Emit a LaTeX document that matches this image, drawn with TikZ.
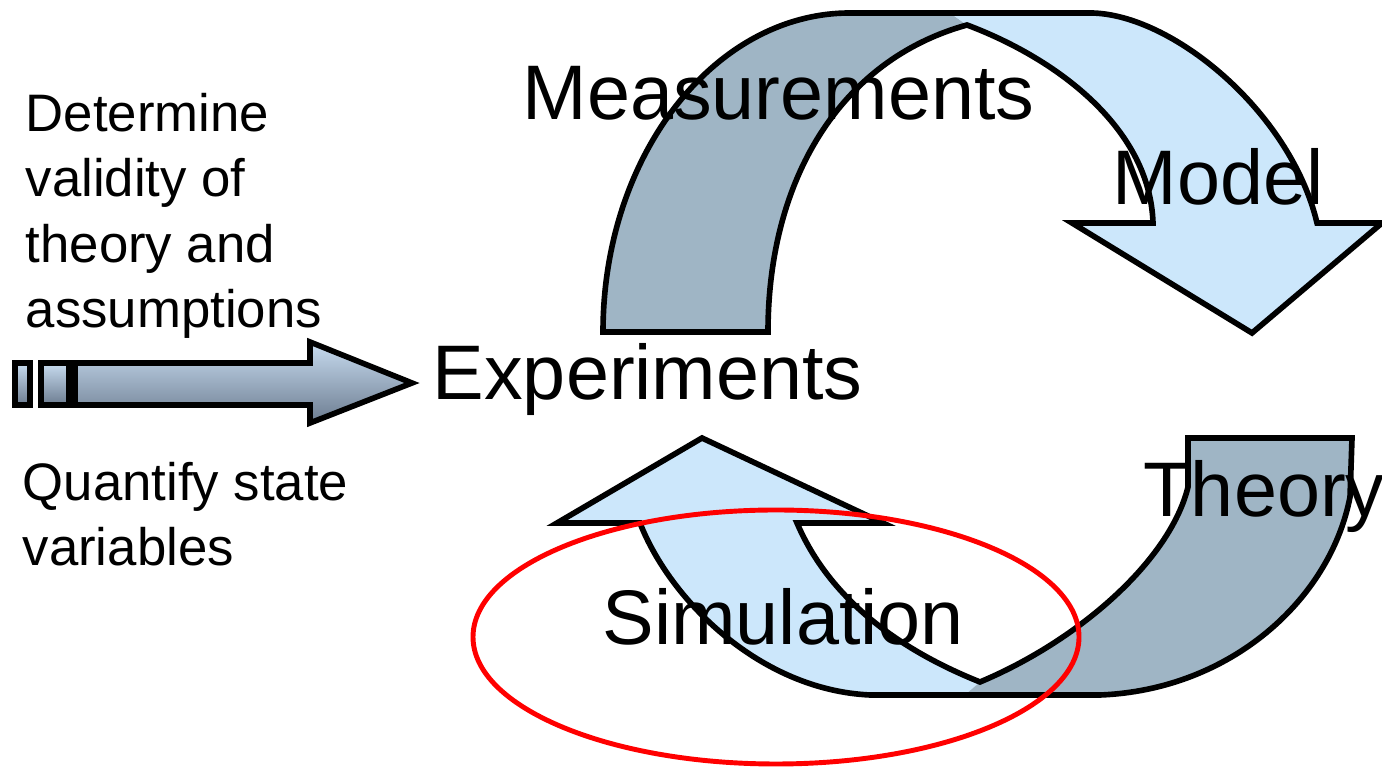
\documentclass[tikz,border=0pt]{standalone}
\usepackage{fontspec}
\setmainfont{Liberation Sans}
\usetikzlibrary{positioning}
\definecolor{backside}{HTML}{9FB5C5}
\definecolor{frontside}{HTML}{CCE7FB}
\definecolor{tubetop}{HTML}{C8DCF0}
\definecolor{tubebot}{HTML}{6C7C90}
\definecolor{circled}{HTML}{FF0000}

\begin{document}
\begin{tikzpicture}[x=0.01cm,y=-0.01cm,
  outline/.style={draw=black,line width=1.6pt,line join=miter},
  tube/.style={outline,top color=tubetop,bottom color=tubebot},
  bigword/.style={anchor=base west,inner sep=0pt,font=\fontsize{22}{26}\selectfont},
  note/.style={anchor=north west,inner sep=0pt,align=left,font=\fontsize{15}{18.5}\selectfont},
]
  \useasboundingbox (0,0) rectangle (1382,768);

  % upper arrow, experiments -> model
  \fill[backside] (603,332) .. controls (603,156) and (714,13) .. (850,13) -- (950,13) -- (967,25)
    .. controls (840,60) and (768,180) .. (768,332) -- cycle;
  \fill[frontside] (950,13) -- (1090,13) .. controls (1170,13) and (1290,110) .. (1317,223)
    -- (1382,223) -- (1252,333) -- (1072,223) -- (1153,223)
    .. controls (1150,130) and (1060,60) .. (967,25) -- cycle;
  \draw[outline] (603,332) .. controls (603,156) and (714,13) .. (850,13) -- (1090,13)
    .. controls (1170,13) and (1290,110) .. (1317,223) -- (1382,223) -- (1252,333)
    -- (1072,223) -- (1153,223) .. controls (1150,130) and (1060,60) .. (967,25)
    .. controls (840,60) and (768,180) .. (768,332) -- cycle;

  % lower arrow, theory -> simulation
  \fill[frontside] (702,438) -- (883,523) -- (797,523) .. controls (830,600) and (900,650) .. (980,682)
    -- (965,695) -- (870,695) .. controls (760,690) and (670,600) .. (640,523) -- (557,523) -- cycle;
  \fill[backside] (980,682) .. controls (1080,640) and (1170,560) .. (1188,487) -- (1188,438)
    -- (1352,438) -- (1350,497) .. controls (1330,600) and (1230,690) .. (1100,695) -- (965,695) -- cycle;
  \draw[outline] (702,438) -- (883,523) -- (797,523) .. controls (830,600) and (900,650) .. (980,682)
    .. controls (1080,640) and (1170,560) .. (1188,487) -- (1188,438) -- (1352,438) -- (1350,497)
    .. controls (1330,600) and (1230,690) .. (1100,695) -- (870,695)
    .. controls (760,690) and (670,600) .. (640,523) -- (557,523) -- cycle;

  % left arrow
  \draw[tube] (15,363) rectangle (30,405);
  \draw[tube] (41,363) rectangle (69,405);
  \draw[tube] (75,363) -- (310,363) -- (310,342) -- (412,383) -- (310,423) -- (310,405) -- (75,405) -- cycle;

  % texts
  \node[note] (validity) at (25,93) {Determine\\validity of\\theory and\\assumptions};
  \node[note] (statevars) at (22,462) {Quantify state\\variables};
  \node[bigword] (experiments) at (432,400) {Experiments};
  \node[bigword] (measurements) at (522,120) {Measurements};
  \node[bigword] (model) at (1112,205) {Model};
  \node[bigword] (theory) at (1143,517) {Theory};
  \node[bigword] (simulation) at (602,645) {Simulation};

  % highlight
  \draw[circled,line width=1.4pt] (776,637) ellipse [x radius=303,y radius=127];
\end{tikzpicture}
\end{document}
